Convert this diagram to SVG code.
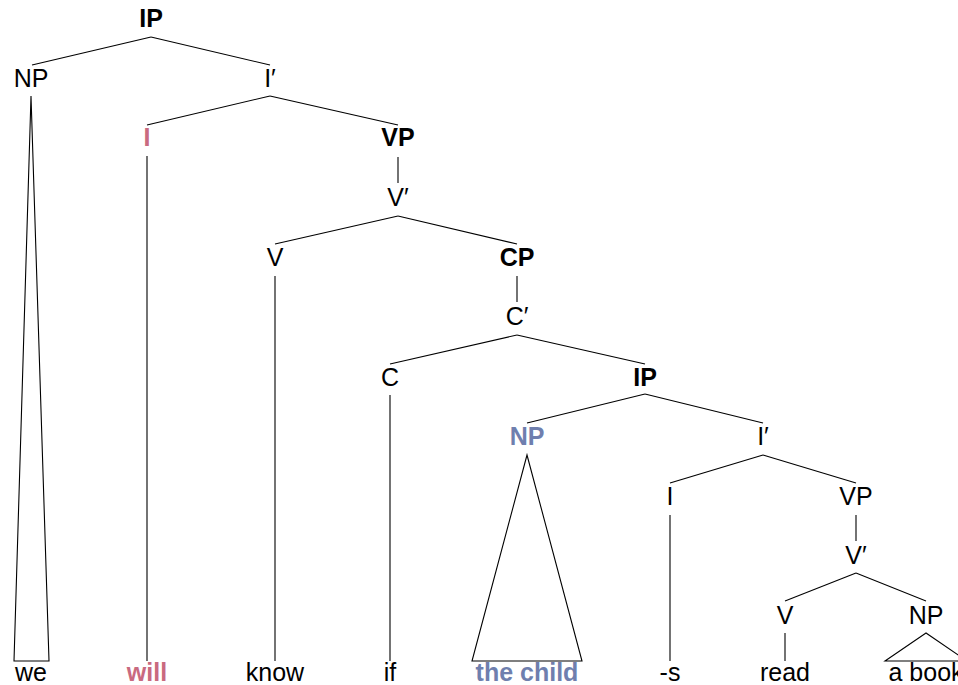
<svg xmlns="http://www.w3.org/2000/svg" width="958" height="685" viewBox="0 0 958 685">
<style>
  text { font-family: "Liberation Sans", Arial, Helvetica, sans-serif; font-size: 25px; fill: #000; text-anchor: middle; }
  .b { font-weight: bold; }
  .pink { fill: #c96a80; }
  .blue { fill: #6f7fae; }
  #edges line, #edges polygon { stroke: #000; stroke-width: 1.1; fill: none; }
</style>
<rect width="958" height="685" fill="#fff"/>
<g id="edges">
  <!-- IP -->
  <line x1="151" y1="37" x2="32" y2="65"/>
  <line x1="151" y1="37" x2="270" y2="65"/>
  <!-- I' -->
  <line x1="270" y1="96" x2="147" y2="125"/>
  <line x1="270" y1="96" x2="398" y2="125"/>
  <!-- VP to V' -->
  <line x1="398" y1="157" x2="398" y2="183"/>
  <!-- V' -->
  <line x1="398" y1="216" x2="275" y2="244"/>
  <line x1="398" y1="216" x2="517" y2="244"/>
  <!-- CP to C' -->
  <line x1="517" y1="276" x2="517" y2="302"/>
  <!-- C' -->
  <line x1="517" y1="335" x2="390" y2="364"/>
  <line x1="517" y1="335" x2="645" y2="364"/>
  <!-- embedded IP -->
  <line x1="645" y1="394" x2="527" y2="423"/>
  <line x1="645" y1="394" x2="763" y2="423"/>
  <!-- embedded I' -->
  <line x1="763" y1="455" x2="670" y2="483"/>
  <line x1="763" y1="455" x2="856" y2="483"/>
  <!-- VP to V' -->
  <line x1="856" y1="515" x2="856" y2="541"/>
  <!-- V' -->
  <line x1="856" y1="573" x2="785" y2="601"/>
  <line x1="856" y1="573" x2="926" y2="601"/>
  <!-- leaves: triangles for phrases, lines for heads -->
  <polygon points="31,96 14,661 49,661"/>
  <line x1="147" y1="156" x2="147" y2="661"/>
  <line x1="275" y1="276" x2="275" y2="661"/>
  <line x1="390" y1="395" x2="390" y2="661"/>
  <polygon points="527,455 472,661 582,661"/>
  <line x1="670" y1="515" x2="670" y2="661"/>
  <line x1="785" y1="633" x2="785" y2="661"/>
  <polygon points="926,633 885,661 967,661"/>
</g>
<g id="n-ip"><text class="b" x="151" y="27">IP</text></g>
<g id="n-np1"><text x="31" y="87">NP</text></g>
<g id="n-ibar1"><text x="270" y="87">I′</text></g>
<g id="n-i1"><text class="b pink" x="147" y="146">I</text></g>
<g id="n-vp1"><text class="b" x="398" y="146">VP</text></g>
<g id="n-vbar1"><text x="398" y="206">V′</text></g>
<g id="n-v1"><text x="275" y="266">V</text></g>
<g id="n-cp"><text class="b" x="517" y="266">CP</text></g>
<g id="n-cbar"><text x="517" y="325">C′</text></g>
<g id="n-c"><text x="390" y="386">C</text></g>
<g id="n-ip2"><text class="b" x="645" y="386">IP</text></g>
<g id="n-np2"><text class="b blue" x="527" y="445">NP</text></g>
<g id="n-ibar2"><text x="763" y="445">I′</text></g>
<g id="n-i2"><text x="670" y="505">I</text></g>
<g id="n-vp2"><text x="856" y="505">VP</text></g>
<g id="n-vbar2"><text x="856" y="564">V′</text></g>
<g id="n-v2"><text x="785" y="624">V</text></g>
<g id="n-np3"><text x="926" y="624">NP</text></g>
<g id="w-we"><text x="31" y="681">we</text></g>
<g id="w-will"><text class="b pink" x="147" y="681">will</text></g>
<g id="w-know"><text x="275" y="681">know</text></g>
<g id="w-if"><text x="390" y="681">if</text></g>
<g id="w-child"><text class="b blue" x="527" y="681">the child</text></g>
<g id="w-s"><text x="670" y="681">-s</text></g>
<g id="w-read"><text x="785" y="681">read</text></g>
<g id="w-book"><text x="926" y="681">a book</text></g>
</svg>
